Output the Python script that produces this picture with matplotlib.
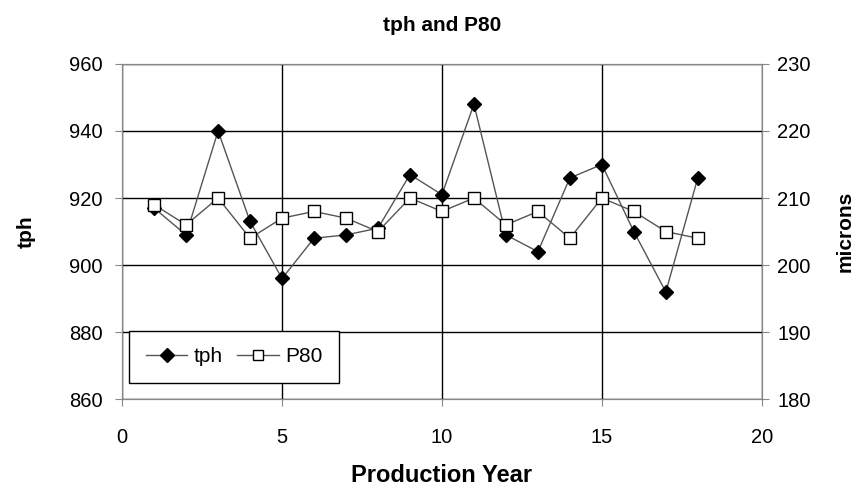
import matplotlib.pyplot as plt

plt.rcParams["font.family"] = ["Liberation Sans", "DejaVu Sans"]

# Daten
jahre = list(range(1, 19))
tph = [917, 909, 940, 913, 896, 908, 909, 911, 927, 921,
       948, 909, 904, 926, 930, 910, 892, 926]
p80 = [209, 206, 210, 204, 207, 208, 207, 205, 210, 208,
       210, 206, 208, 204, 210, 208, 205, 204]

fig = plt.figure(figsize=(8.54, 4.88), dpi=100)
ax = fig.add_axes([0.143, 0.182, 0.749, 0.687])
ax2 = ax.twinx()

l1, = ax.plot(jahre, tph, "-", color="#555555", lw=1,
              marker="D", ms=7, mfc="black", mec="black", label="tph")
l2, = ax2.plot(jahre, p80, "-", color="#555555", lw=1,
               marker="s", ms=9, mfc="white", mec="black", mew=1, label="P80")

ax.set_xlim(0, 20)
ax.set_ylim(860, 960)
ax2.set_ylim(180, 230)
ax.set_xticks(range(0, 21, 5))
ax.set_yticks(range(860, 961, 20))
ax2.set_yticks(range(180, 231, 10))
ax.grid(True, color="black", lw=1)
ax.set_axisbelow(True)

for a in (ax, ax2):
    a.tick_params(labelsize=14.5, direction="out", length=5, color="#888888")
    for s in a.spines.values():
        s.set_color("#888888")
ax.tick_params(axis="x", pad=16)
ax.tick_params(axis="y", pad=9)
ax2.tick_params(axis="y", pad=6)

ax.set_xlabel("Production Year", fontsize=17, fontweight="bold", labelpad=12)
ax.set_ylabel("tph", fontsize=15, fontweight="bold", labelpad=24)
ax2.set_ylabel("microns", fontsize=15, fontweight="bold", labelpad=18)
ax.set_title("tph and P80", fontsize=15, fontweight="bold", pad=24)

leg = ax.legend(handles=[l1, l2], loc="lower left", ncol=2, fontsize=15,
                fancybox=False, framealpha=1, edgecolor="black",
                bbox_to_anchor=(0.011, 0.048), borderaxespad=0,
                handlelength=2.0, handletextpad=0.3, columnspacing=0.7,
                borderpad=0.8)
leg.get_frame().set_linewidth(1)
for h in leg.legend_handles:
    h.set_markersize(7)

fig.savefig("out.png", dpi=100)
